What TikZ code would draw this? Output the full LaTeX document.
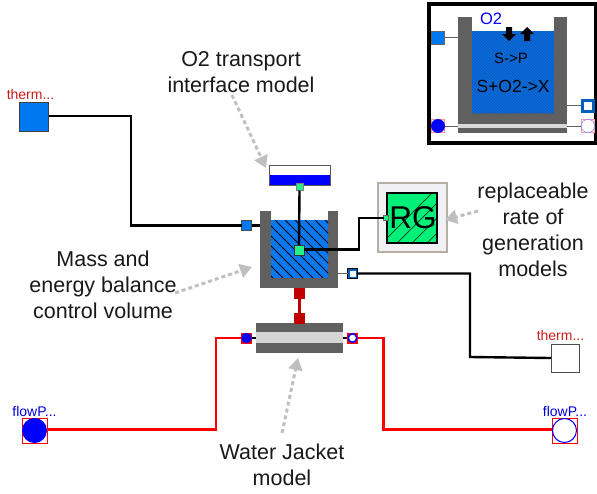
\documentclass[tikz,border=0pt]{standalone}
\usepackage{fontspec}
\setmainfont{Liberation Sans}
\usetikzlibrary{patterns,arrows.meta}
\definecolor{wall}{HTML}{606060}
\definecolor{water}{HTML}{0A78F0}
\definecolor{iwater}{HTML}{0A6CDC}
\definecolor{iwaterd}{HTML}{0A58BC}
\definecolor{portblue}{HTML}{0078F0}
\definecolor{gen}{HTML}{00F078}
\definecolor{dred}{HTML}{C00000}
\definecolor{callout}{HTML}{C0C0C0}
\definecolor{framebg}{HTML}{F0F0F5}
\definecolor{framebd}{HTML}{B4B0A4}
\definecolor{lbl}{HTML}{C81E1E}
\tikzset{
  x=1pt,y=-1pt,
  boxn/.style={inner sep=0pt,outer sep=0pt,minimum width=#1,minimum height=#1},
  conn/.style={line width=2.4pt,black},
  redconn/.style={line width=2.6pt,red},
  note/.style={font=\fontsize{21.5}{26}\selectfont,align=center,inner sep=0pt,text=black!90},
  small/.style={font=\fontsize{14}{15}\selectfont,inner sep=0pt},
  callarrow/.style={line width=3pt,callout,dash pattern=on 4pt off 3pt,-{Triangle[length=12pt,width=14pt]}},
  heatin/.style={boxn=#1,fill=portblue,draw=black!70,line width=1pt},
  heatout/.style={boxn=#1,fill=white,draw=black!70,line width=1pt},
  fluidin/.style={circle,boxn=#1,fill=blue},
  fluidout/.style={circle,boxn=#1,fill=white,draw=blue,line width=1pt},
  corner/.style={boxn=#1,fill=white,draw=red,line width=.8pt},
  greenport/.style={boxn=#1,fill=gen!85!white,draw=black!80,line width=1pt},
  redport/.style={boxn=#1,fill=dred},
}
\begin{document}
\begin{tikzpicture}
\useasboundingbox (0,0) rectangle (597,493);
\fill[white] (0,0) rectangle (597,493);

% --- inset icon ---
\draw[line width=4pt,black] (429,4) rectangle (595.5,143);
\fill[wall] (458,17) rectangle (567,124);
\fill[white] (472,17) rectangle (554,31);
\fill[iwater] (472,31) rectangle (554,113);
\fill[pattern=north west lines,pattern color=iwaterd] (472,31) rectangle (554,113);
\fill[black!15] (458,124) rectangle (567,128);
\fill[wall] (458,128) rectangle (567,133);
\draw[wall,line width=.8pt] (445,37) -- (458,37) (567,105) -- (581,105) (445,126) -- (458,126) (567,126) -- (581,126);
\node[heatin=13pt,draw=black!60] (iA) at (438,38) {};
\node[boxn=10.5pt,fill=white,draw=portblue!80!black,line width=2.8pt] (iB) at (588,106) {};
\node[corner=13.5pt,draw=red!40] (iC) at (438,126) {};
\node[fluidin=14pt] (iCc) at (438,126) {};
\node[corner=13.5pt,draw=red!40] (iD) at (588,126) {};
\node[circle,boxn=13.5pt,fill=white,draw=blue!50,line width=.6pt] (iDc) at (588,126) {};
\fill[black] (506,27) rectangle (512,34) (502,34) -- (516,34) -- (509,41) -- cycle;
\fill[black] (524,34) rectangle (530,41) (520,34) -- (534,34) -- (527,27) -- cycle;
\node[font=\fontsize{16.5}{18}\selectfont,text=blue,inner sep=0pt] (iO) at (491,19) {O2};
\node[font=\fontsize{15}{17}\selectfont,inner sep=0pt] (iS) at (511,58) {S->P};
\node[font=\fontsize{17.5}{19}\selectfont,inner sep=0pt] (iX) at (513,86) {S+O2->X};

% --- vessel ---
\fill[wall] (260,211) rectangle (338,288);
\fill[white] (271,211) rectangle (328,220);
\fill[water] (271,220) rectangle (328,278);
\begin{scope}
  \clip (271,220) rectangle (328,278);
  \foreach \k in {0,...,12} \draw[black,line width=.8pt] (205+10*\k,220) -- ++(58,58);
\end{scope}

% --- interface ---
\fill[white] (269,165) rectangle (330,175);
\fill[blue] (269,175) rectangle (330,185);
\draw[black!65,line width=1pt] (269,165) rectangle (330,185);

% --- reaction frame ---
\fill[framebg] (377,182) rectangle (448,253);
\draw[framebd,line width=1.6pt] (378,183) rectangle (447,252);
\node[boxn=50pt,fill=gen,draw=black,line width=1pt] (rg) at (412,218) {};
\begin{scope}
  \clip (387,193) rectangle (437,243);
  \foreach \k in {0,...,7} \draw[black!75!gen,line width=.7pt] (387-5+15*\k,243) -- ++(50,-50);
\end{scope}
\draw[black,line width=1.2pt] (387,193) rectangle (437,243);
\node[font=\fontsize{31.5}{34}\selectfont,inner sep=0pt] (rgt) at (413,218) {RG};

% --- jacket ---
\fill[wall] (256,323) rectangle (343,353);
\fill[black!16] (256,332) rectangle (343,343);

% --- ports ---
\node[heatin=29pt,draw=black!75] (thA) at (34,117) {};
\node[heatout=28pt] (thB) at (565,358) {};
\node[corner=25pt] (flA) at (34.5,430.5) {};
\node[fluidin=25pt] (flAc) at (34.5,430.5) {};
\node[corner=25pt] (flB) at (564.5,430.5) {};
\node[fluidout=24pt] (flBc) at (564.5,430.5) {};

\node[heatin=10pt] (vh) at (246.5,225.5) {};
\node[boxn=10pt,fill=portblue!80!black,draw=black,line width=1pt] (vo) at (352.5,273.5) {};
\node[boxn=6pt,fill=white] (voi) at (353,274) {};
\node[greenport=10pt] (vg) at (299,250) {};
\node[boxn=7pt,fill=gen!85!white,draw=black!50,line width=.4pt] (ig) at (299.5,187) {};
\node[boxn=5pt,fill=gen!85!white,draw=black!60,line width=.4pt] (rp) at (386,218) {};
\node[redport=11pt] (r1) at (299.5,293) {};
\node[redport=11pt] (r2) at (299.5,318.5) {};
\node[boxn=11pt,fill=red] (jA) at (246.5,338) {};
\node[fluidin=10.5pt] (jAc) at (246.5,338) {};
\node[boxn=11pt,fill=red] (jB) at (352.5,338) {};
\node[fluidout=8.5pt,line width=1.5pt] (jBc) at (352.5,338) {};

% --- connectors ---
\coordinate (c1a) at (131,116); \coordinate (c1b) at (131,225.5);
\draw[conn] (thA.east |- c1a) -- (c1a) -- (c1b) -- (vh.west);
\draw[conn] (vh.east) -- (260,225.5);
\draw[conn] (ig.south) -- (vg.north);
\coordinate (c2a) at (359,249.5); \coordinate (c2b) at (359,218);
\draw[conn] (vg.east |- c2a) -- (c2a) -- (c2b) -- (rp.west);
\coordinate (c3a) at (470,273.5); \coordinate (c3b) at (470,357);
\draw[conn] (vo.east) -- (c3a) -- (c3b) -- (thB.west);
\draw[wall,line width=1.2pt] (338,273.5) -- (vo.west);
\draw[dred,line width=2.4pt] (r1.south) -- (r2.north);
\coordinate (c4a) at (216,338); \coordinate (c4b) at (216,429.5);
\draw[redconn] (jA.west) -- (c4a) -- (c4b) -- (flA.east |- c4b);
\coordinate (c5a) at (383.5,338); \coordinate (c5b) at (383.5,429.5);
\draw[redconn] (jB.east) -- (c5a) -- (c5b) -- (flB.west |- c5b);
\draw[line width=1.5pt] (252,338) -- (256,338) (343,338) -- (347,338);

% --- labels ---
\node[small,text=lbl] (l1) at (30.5,94) {therm...};
\node[small,text=lbl] (l2) at (560.5,335) {therm...};
\node[small,text=blue!85!black] (l3) at (34.5,411) {flowP...};
\node[small,text=blue!85!black] (l4) at (565,411) {flowP...};
\node[note] (n1) at (241,72) {O2 transport\\interface model};
\node[note] (n2) at (533,229.5) {replaceable\\rate of\\generation\\models};
\node[note] (n3) at (103,284.5) {Mass and\\energy balance\\control volume};
\node[note] (n4) at (282,464.5) {Water Jacket\\model};

% --- callouts ---
\coordinate (a1) at (232,95); \coordinate (a1e) at (266,168);
\coordinate (a2) at (478,211); \coordinate (a2e) at (445,220);
\coordinate (a3) at (175,293); \coordinate (a3e) at (252,267);
\coordinate (a4) at (282,433); \coordinate (a4e) at (298,358);
\draw[callarrow] (a1) -- (a1e);
\draw[callarrow] (a2) -- (a2e);
\draw[callarrow] (a3) -- (a3e);
\draw[callarrow] (a4) -- (a4e);
\end{tikzpicture}
\end{document}
